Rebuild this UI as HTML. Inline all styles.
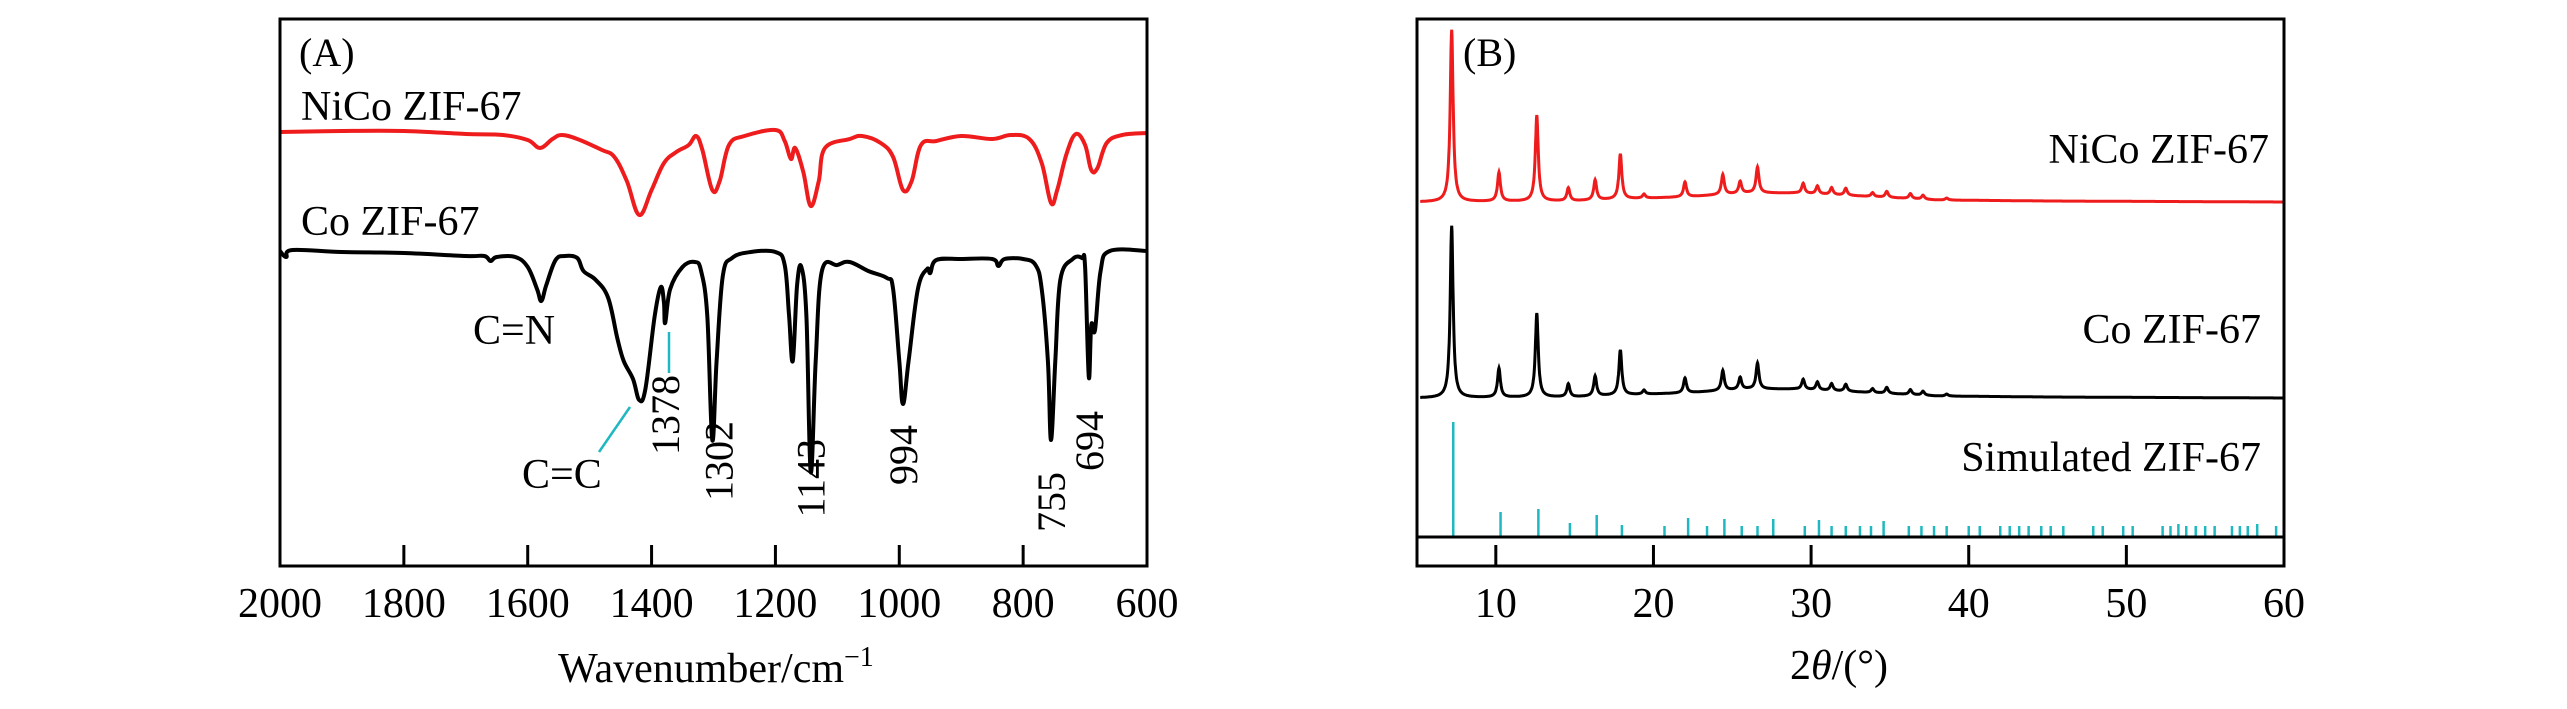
<!DOCTYPE html>
<html><head><meta charset="utf-8"><style>
html,body{margin:0;padding:0;background:#fff}
svg{display:block}
text{font-family:"Liberation Serif",serif;fill:#000}
</style></head><body>
<svg id="fig" width="2567" height="709" viewBox="0 0 2567 709" xmlns="http://www.w3.org/2000/svg">
<g id="pa"></g>
<g id="pb"></g>
</svg>
<script>
// ---------- Panel A data (FTIR) ----------
const ftirRedWn = [2000,1900,1800,1700,1640,1600,1580,1560,1545,1520,1480,1460,1440,1420,1400,1380,1360,1340,1328,1318,1302,1290,1275,1250,1200,1185,1175,1168,1155,1143,1130,1120,1080,1060,1030,1010,994,980,965,940,900,850,820,790,770,755,745,730,715,700,690,680,665,640,600];
const ftirRedDepth = [0,-1,-1,2,3,8,16,7,3,7,18,25,49,83,58,31,20,13,4,18,58,49,13,4,-2,9,27,16,40,74,49,16,7,4,11,25,58,49,13,9,4,7,3,7,31,71,58,22,2,13,38,36,11,3,1];
const ftirBlackWn = [2000,1990,1980,1900,1800,1700,1670,1660,1650,1620,1600,1585,1578,1570,1555,1540,1520,1510,1490,1470,1455,1445,1430,1420,1410,1395,1385,1380,1378,1370,1350,1330,1320,1310,1302,1295,1285,1270,1240,1200,1185,1178,1172,1165,1158,1150,1143,1135,1125,1100,1080,1050,1020,1010,1000,994,985,970,955,950,940,900,850,840,830,800,780,770,760,755,748,740,720,705,700,694,690,684,675,660,600];
const ftirBlackDepth = [0,6,-1,1,2,5,5,10,6,6,16,38,50,34,9,5,7,20,29,47,88,110,128,149,138,65,36,52,72,38,16,11,20,65,189,110,25,7,1,1,14,65,110,34,16,65,221,110,20,14,11,20,27,38,110,153,110,38,18,22,9,8,8,15,8,8,14,38,110,189,110,29,8,7,16,126,74,79,20,0,0];
const ftirTicks = [2000,1800,1600,1400,1200,1000,800,600];
const peakLabels = ["1378","1302","1143","994","755","694"];
const peakLabelWn = [1378,1302,1143,994,755,694];

// ---------- Panel B data (XRD) ----------
const xrdPeakPos = [7.2,10.2,12.6,14.6,16.3,17.9,19.4,22.0,24.4,25.5,26.6,29.5,30.4,31.3,32.2,33.9,34.8,36.3,37.1,38.6];
const xrdRedH   = [172,29,86,13,20,45,4,15,20,12,26,10,8,7,7,4,6,5,4,2];
const xrdBlackH = [172,29,84,13,20,45,4,15,20,12,26,10,8,7,7,4,6,5,4,2];
const humpPos = [5,15,18,22,26,29,33,38,45,60];
const humpRed = [0,1,3,5,9,9,6,2,1,0];
const simPos = [7.3,10.3,12.7,14.7,16.4,18.0,20.7,22.2,23.4,24.5,25.6,26.6,27.6,29.6,30.5,31.3,32.2,33.1,33.8,34.6,36.2,37.0,37.8,38.6,40.0,40.7,42.0,42.6,43.2,43.8,44.6,45.2,46.0,47.9,48.5,49.8,50.4,52.3,52.8,53.3,53.8,54.4,55.0,55.6,56.7,57.2,57.7,58.3,59.5,60.0];
const simH = [115,25,28,14,22,12,11,19,11,18,11,11,18,11,17,11,11,11,11,16,11,11,11,11,11,11,11,11,11,11,11,11,11,11,11,11,11,11,11,13,11,11,11,11,11,11,11,13,11,11];
const xrdTicks = [10,20,30,40,50,60];

const NS="http://www.w3.org/2000/svg";
function mk(parent,tag,attrs,txt){const e=document.createElementNS(NS,tag);for(const k in attrs)e.setAttribute(k,attrs[k]);if(txt!==undefined)e.textContent=txt;parent.appendChild(e);return e;}

// ===== Panel A =====
const A=document.getElementById('pa');
const aL=280,aR=1147,aT=19,aB=566;
const ax=w=>aL+(2000-w)/1400*(aR-aL);
const redBase=132, blackBase=251;
function smoothLine(wn,dep,base){
  const P=wn.map((w,i)=>[ax(w),base+dep[i]]);
  let d='M'+P[0][0].toFixed(1)+','+P[0][1].toFixed(1);
  for(let i=0;i<P.length-1;i++){
    const p0=P[Math.max(0,i-1)],p1=P[i],p2=P[i+1],p3=P[Math.min(P.length-1,i+2)];
    const t=0.18;
    const c1=[p1[0]+(p2[0]-p0[0])*t,p1[1]+(p2[1]-p0[1])*t];
    const c2=[p2[0]-(p3[0]-p1[0])*t,p2[1]-(p3[1]-p1[1])*t];
    d+='C'+c1[0].toFixed(1)+','+c1[1].toFixed(1)+' '+c2[0].toFixed(1)+','+c2[1].toFixed(1)+' '+p2[0].toFixed(1)+','+p2[1].toFixed(1);
  }
  return d;
}
let e;
e=mk(A,'path',{d:smoothLine(ftirRedWn,ftirRedDepth,redBase),fill:'none',stroke:'#ee1c1c','stroke-width':4,'stroke-linejoin':'round'});


e=mk(A,'path',{d:smoothLine(ftirBlackWn,ftirBlackDepth,blackBase),fill:'none',stroke:'#000','stroke-width':4,'stroke-linejoin':'round'});


e=mk(A,'rect',{x:aL,y:aT,width:aR-aL,height:aB-aT,fill:'none',stroke:'#000','stroke-width':3});


ftirTicks.forEach(t=>{
  if(t!==2000&&t!==600){e=mk(A,'line',{x1:ax(t),x2:ax(t),y1:aB,y2:aB-21,stroke:'#000','stroke-width':3});
  
  }
  e=mk(A,'text',{x:ax(t),y:617,'font-size':42,'text-anchor':'middle'},String(t));
  
  
});
e=mk(A,'text',{x:716,y:682,'font-size':42,'text-anchor':'middle'},'Wavenumber/cm');


mk(e,'tspan',{dy:-16,'font-size':28},'−1');
e=mk(A,'text',{x:299,y:66,'font-size':40},'(A)');


e=mk(A,'text',{x:301,y:120,'font-size':42},'NiCo ZIF-67');


e=mk(A,'text',{x:301,y:235,'font-size':42},'Co ZIF-67');


e=mk(A,'text',{x:473,y:344,'font-size':42},'C=N');


e=mk(A,'text',{x:522,y:488,'font-size':42},'C=C');


e=mk(A,'line',{x1:630,y1:407,x2:599,y2:452,stroke:'#1fb8c0','stroke-width':2.5});


e=mk(A,'line',{x1:669,y1:332,x2:669,y2:373,stroke:'#1fb8c0','stroke-width':2.5});


const labTop=[375,421,439,425,472,411];
const labDx=[0,6,0,0,0,0];
peakLabels.forEach((s,i)=>{
  const x=ax(peakLabelWn[i])+labDx[i]+14, y=labTop[i];
  e=mk(A,'text',{x:x,y:y,'font-size':40,'text-anchor':'end',transform:`rotate(-90 ${x} ${y})`},s);
  
  
});

// ===== Panel B =====
const B=document.getElementById('pb');
const bL=1417,bR=2284,bT=19,bB=566,simBase=537;
const bx=t=>bL+(t-5)/55*(bR-bL);
function hump(t){for(let i=1;i<humpPos.length;i++){if(t<=humpPos[i]){const f=(t-humpPos[i-1])/(humpPos[i]-humpPos[i-1]);return humpRed[i-1]+f*(humpRed[i]-humpRed[i-1]);}}return 0;}
function xrdPath(heights,base){
  let d='';
  for(let t=5.2;t<=60;t+=0.02){
    let v=hump(t);
    xrdPeakPos.forEach((p,i)=>{const w=0.11;v+=heights[i]/(1+((t-p)/w)**2);});
    d+=(d?'L':'M')+bx(t).toFixed(1)+','+(base-v).toFixed(1);
  }
  return d;
}
e=mk(B,'path',{d:xrdPath(xrdRedH,202),fill:'none',stroke:'#ee1c1c','stroke-width':3});


e=mk(B,'path',{d:xrdPath(xrdBlackH,398),fill:'none',stroke:'#000','stroke-width':3});


simPos.forEach((p,i)=>{
  e=mk(B,'line',{x1:bx(p),x2:bx(p),y1:simBase,y2:simBase-simH[i],stroke:'#1fb8c0','stroke-width':2.5});
  
  
});
e=mk(B,'line',{x1:bL,x2:bR,y1:simBase,y2:simBase,stroke:'#000','stroke-width':3});


e=mk(B,'rect',{x:bL,y:bT,width:bR-bL,height:bB-bT,fill:'none',stroke:'#000','stroke-width':3});


xrdTicks.forEach(t=>{
  if(t!==60){e=mk(B,'line',{x1:bx(t),x2:bx(t),y1:bB,y2:bB-21,stroke:'#000','stroke-width':3});
  
  }
  e=mk(B,'text',{x:bx(t),y:617,'font-size':42,'text-anchor':'middle'},String(t));
  
  
});
e=mk(B,'text',{x:1839,y:679,'font-size':42,'text-anchor':'middle'},'2');


mk(e,'tspan',{'font-style':'italic'},'θ');
mk(e,'tspan',{},'/(°)');
e=mk(B,'text',{x:1463,y:66,'font-size':40},'(B)');


e=mk(B,'text',{x:2269,y:163,'font-size':42,'text-anchor':'end'},'NiCo ZIF-67');


e=mk(B,'text',{x:2261,y:343,'font-size':42,'text-anchor':'end'},'Co ZIF-67');


e=mk(B,'text',{x:2261,y:471,'font-size':42,'text-anchor':'end'},'Simulated ZIF-67');


</script>
</body></html>
